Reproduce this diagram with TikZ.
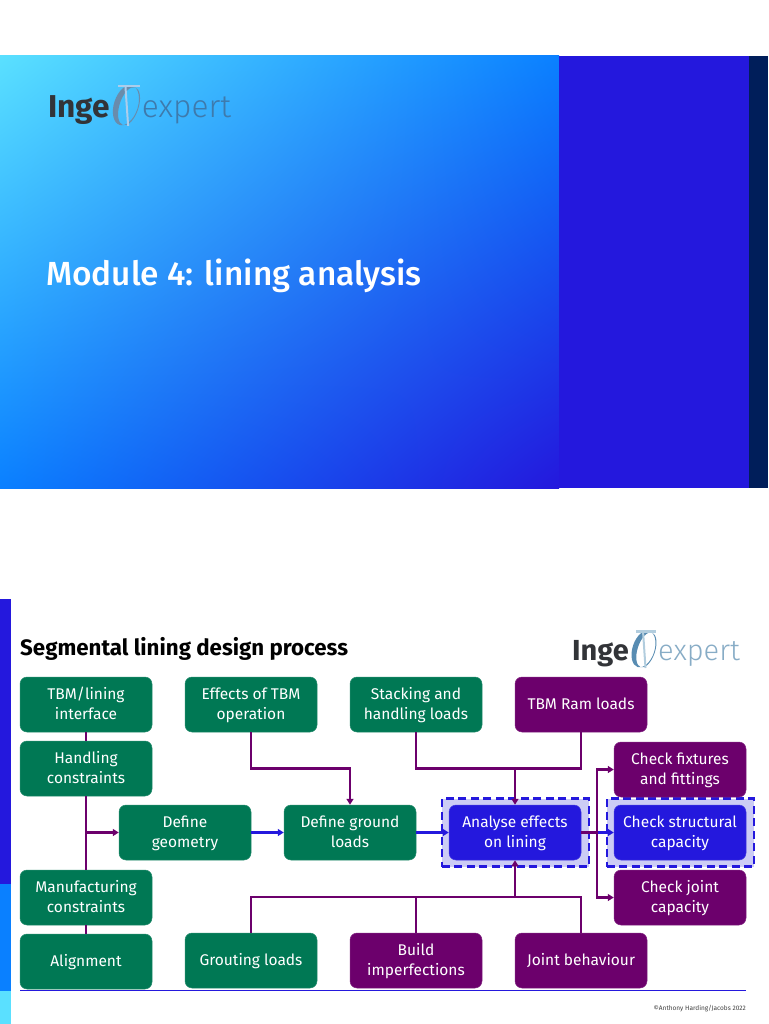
\documentclass[tikz,border=0pt]{standalone}
\usepackage{fontspec}
\setmainfont{Fira Sans}
\newfontfamily\lightfont{Fira Sans Light}
\newfontfamily\mediumfont{Fira Sans Medium}
\usetikzlibrary{arrows.meta,positioning,calc,shadings}
\definecolor{bandblue}{RGB}{36,24,221}
\definecolor{navyband}{RGB}{0,30,90}
\definecolor{midblue}{RGB}{10,128,255}
\definecolor{skyblue}{RGB}{90,224,255}
\definecolor{boxgreen}{RGB}{0,120,84}
\definecolor{boxpurple}{RGB}{108,0,108}
\definecolor{hlfill}{RGB}{204,204,245}
\definecolor{logodark}{RGB}{50,52,56}
\definecolor{topword}{RGB}{62,122,172}
\definecolor{topring}{RGB}{105,140,172}
\definecolor{topbar}{RGB}{172,205,235}
\definecolor{pageword}{RGB}{135,172,198}
\definecolor{pagering}{RGB}{88,140,178}
\definecolor{pagebar}{RGB}{178,205,222}
\tikzset{
  procbox/.style={rounded corners=7pt,minimum width=132pt,minimum height=55pt,inner sep=0pt,text=white,font=\fontsize{15.5}{19.4}\selectfont},
  hlbox/.style={draw=bandblue,fill=hlfill,line width=2.2pt,dash pattern=on 8pt off 4.5pt,minimum width=147pt,minimum height=68pt,inner sep=0pt},
  purpleline/.style={draw=boxpurple,line width=2.1pt},
  purplearrow/.style={purpleline,-{Triangle[length=6pt,width=7pt]}},
  bluearrow/.style={draw=bandblue,line width=2.1pt,-{Triangle[length=6pt,width=7pt]}},
}
\newcommand{\boxtext}[1]{\vbox{\vskip2.6pt\hbox{\begin{tabular}{@{}c@{}}#1\end{tabular}}}}
% logo: #1 origin, #2 scale, #3 word colour, #4 ring colour, #5 bar colour, #6 name prefix
\newcommand{\ingelogo}[6]{
\begin{scope}[shift={(#1)},scale=#2,transform shape]
\fill[#4,even odd rule,rotate around={-18:(71.5,19)}] (71.5,19) ellipse [x radius=11,y radius=19] (74.5,19) ellipse [x radius=8.8,y radius=18.2];
\draw[#5,line width=2pt] (71,1)--(73.5,38);
\draw[#5,line width=2.4pt] (64,1.5)--(84,1.5);
\node[anchor=base west,inner sep=0pt,text=logodark,font=\fontsize{29}{29}\selectfont\bfseries] (#6inge) at (0,30) {Inge};
\node[anchor=base west,inner sep=0pt,text=#3,font=\lightfont\fontsize{29}{29}\selectfont] (#6expert) at (86,30) {expert};
\end{scope}
}
\begin{document}
\begin{tikzpicture}[x=1pt,y=-1pt]
\useasboundingbox (0,0) rectangle (768,1024);
\fill[white] (0,0) rectangle (768,1024);
% title slide
\shade[upper left=skyblue,upper right=midblue,lower left=midblue,lower right=bandblue] (0,56) rectangle (559,488);
\fill[bandblue] (559,56) rectangle (749,488);
\fill[navyband] (749,56) rectangle (768,488);
\ingelogo{48,84.5}{1.09}{topword}{topring}{topbar}{top}
\node[anchor=base west,inner sep=0pt,text=white,font=\mediumfont\fontsize{33.4}{33.4}\selectfont] (slidetitle) at (46,285) {Module 4: lining analysis};
% side band
\fill[bandblue] (0,599) rectangle (11,884);
\fill[midblue] (0,884) rectangle (11,991);
\fill[skyblue] (0,991) rectangle (11,1024);
\node[anchor=base west,inner sep=0pt,font=\fontsize{22.3}{22.3}\selectfont\bfseries] (pagetitle) at (20,655) {Segmental lining design process};
\ingelogo{572,630}{1}{pageword}{pagering}{pagebar}{page}
% highlights
\node[hlbox] (hlanalyse) at (515.25,832.5) {};
\node[hlbox] (hlcapacity) at (680.25,832.5) {};
% boxes
\foreach \n/\x/\y/\c/\t in {
  tbm/86/704.5/boxgreen/{TBM/lining\\interface},
  handling/86/768.5/boxgreen/{Handling\\constraints},
  manuf/86/897.5/boxgreen/{Manufacturing\\constraints},
  align/86/961.5/boxgreen/{Alignment},
  effects/251/704.5/boxgreen/{Effects of TBM\\operation},
  stacking/416/704.5/boxgreen/{Stacking and\\handling loads},
  ram/581/704.5/boxpurple/{TBM Ram loads},
  geometry/185/832.5/boxgreen/{Define\\geometry},
  ground/350/832.5/boxgreen/{Define ground\\loads},
  analyse/515/832.5/bandblue/{Analyse effects\\on lining},
  fixtures/680/769.5/boxpurple/{Check fixtures\\and fittings},
  capacity/680/832.5/bandblue/{Check structural\\capacity},
  joint/680/897.5/boxpurple/{Check joint\\capacity},
  grouting/251/960.5/boxgreen/{Grouting loads},
  build/416/960.5/boxpurple/{Build\\imperfections},
  behaviour/581/960.5/boxpurple/{Joint behaviour}}{
  \node[procbox,fill=\c,draw=\c!85!white,line width=.5pt] (\n) at (\x,\y) {\boxtext{\t}};
}
% left column
\coordinate (trunk) at (tbm.south |- geometry.west);
\draw[purpleline] (tbm)--(handling);
\draw[purpleline] (handling)--(manuf);
\draw[purpleline] (manuf)--(align);
\draw[purplearrow] (trunk)--(geometry.west);
\draw[bluearrow] (geometry)--(ground);
\draw[bluearrow] (ground)--(analyse);
% loads from above
\coordinate (topjoin) at (analyse.north |- 0,768.5);
\draw[purplearrow] (effects.south) |- (251,768.5) -| (ground.north);
\draw[purpleline] (stacking.south) |- (topjoin) -| (ram.south);
\draw[purplearrow] (topjoin)--(analyse.north);
% loads from below
\coordinate (lowjoin) at (analyse.south |- 0,897);
\draw[purpleline] (grouting.north) |- (lowjoin) -| (behaviour.north);
\draw[purpleline] (build.north)--(build.north |- lowjoin);
\draw[purplearrow] (lowjoin)--(analyse.south);
% checks
\coordinate (checkjoin) at (597,832.5);
\draw[bluearrow] (checkjoin)--(capacity.west);
\draw[purpleline] (analyse.east)--(checkjoin);
\draw[purplearrow] (checkjoin) |- (fixtures.west);
\draw[purplearrow] (checkjoin) |- (joint.west);
% foot
\coordinate (ruleleft) at (20,990.5);
\coordinate (ruleright) at (746,990.5);
\draw[bandblue,line width=.8pt] (ruleleft)--(ruleright);
\node[anchor=east,inner sep=0pt,text=black!75,font=\fontsize{6.5}{7}\selectfont] (credit) at (746,1008.5) {©Anthony Harding/Jacobs 2022};
\end{tikzpicture}
\end{document}
